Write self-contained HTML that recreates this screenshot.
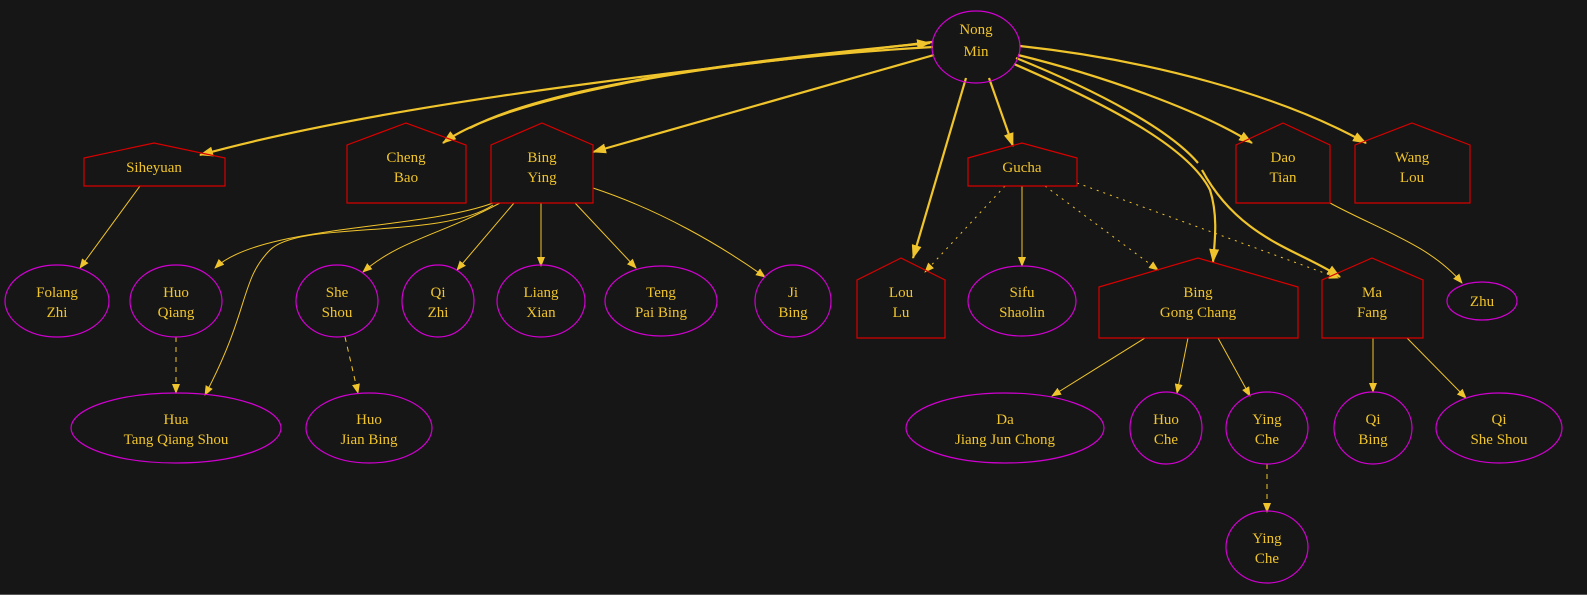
<!DOCTYPE html>
<html><head><meta charset="utf-8"><style>
html,body{margin:0;padding:0;background:#161616;}
svg{display:block;}
text{font-family:"Liberation Serif",serif;font-size:15px;fill:#f0c42c;text-anchor:middle;}
.e{fill:none;stroke:#f0c42c;stroke-width:1;}
.t{fill:none;stroke:#f0c42c;stroke-width:2.2;}
.el{fill:none;stroke:#d000d0;stroke-width:1.2;}
.h{fill:none;stroke:#d80000;stroke-width:1.2;}
</style></head><body>
<svg width="1587" height="595" viewBox="0 0 1587 595" xmlns="http://www.w3.org/2000/svg">
<defs>
<marker id="a" markerWidth="10" markerHeight="8" refX="9" refY="4" orient="auto" markerUnits="userSpaceOnUse"><path d="M0,0 L10,4 L0,8 z" fill="#f0c42c"/></marker>
<marker id="b" markerWidth="14" markerHeight="10" refX="13" refY="5" orient="auto" markerUnits="userSpaceOnUse"><path d="M0,0 L14,5 L0,10 z" fill="#f0c42c"/></marker>
</defs>
<rect x="0" y="0" width="1587" height="595" fill="#161616"/>
<line x1="0" y1="594.5" x2="1587" y2="594.5" stroke="#555" stroke-width="1"/>

<!-- thick edges from Nong Min -->
<path class="t" marker-end="url(#b)" d="M932,42 C700,70 400,100 200,155"/>
<path class="t" marker-end="url(#b)" d="M933,47 C700,60 500,100 443,143"/>
<path class="t" marker-end="url(#b)" d="M470,128 C560,80 800,55 930,43"/>
<path class="t" marker-end="url(#b)" d="M934,55 L593,152"/>
<path class="t" marker-end="url(#b)" d="M966,78 L913,258"/>
<path class="t" marker-end="url(#b)" d="M989,78 L1013,146"/>
<path class="t" marker-end="url(#b)" d="M1014,64 C1120,110 1190,150 1210,190 C1218,215 1215,240 1213,262"/>
<path class="t" marker-end="url(#b)" d="M1016,58 C1100,92 1170,130 1198,163 M1202,170 C1240,240 1300,250 1340,277"/>
<path class="t" marker-end="url(#b)" d="M1018,55 C1100,75 1200,110 1252,143"/>
<path class="t" marker-end="url(#b)" d="M1020,46 C1150,60 1280,95 1366,143"/>

<!-- thin edges -->
<path class="e" marker-end="url(#a)" d="M140,186 L80,268"/>
<path class="e" marker-end="url(#a)" d="M493,203 C420,230 260,225 215,268"/>
<path class="e" marker-end="url(#a)" d="M493,205 C440,240 300,220 270,250 C240,280 250,310 205,395"/>
<path class="e" marker-end="url(#a)" d="M500,203 C440,235 400,240 363,272"/>
<path class="e" marker-end="url(#a)" d="M514,203 L457,270"/>
<path class="e" marker-end="url(#a)" d="M541,203 L541,266"/>
<path class="e" marker-end="url(#a)" d="M575,203 L636,268"/>
<path class="e" marker-end="url(#a)" d="M593,188 C660,210 720,245 765,277"/>
<path class="e" marker-end="url(#a)" stroke-dasharray="5,5" d="M176,337 L176,393"/>
<path class="e" marker-end="url(#a)" stroke-dasharray="5,5" d="M345,337 L358,393"/>
<path class="e" marker-end="url(#a)" stroke-dasharray="2,5" d="M1005,186 L925,272"/>
<path class="e" marker-end="url(#a)" d="M1022,186 L1022,266"/>
<path class="e" marker-end="url(#a)" stroke-dasharray="2,5" d="M1045,186 L1158,270"/>
<path class="e" marker-end="url(#a)" stroke-dasharray="2,5" d="M1077,183 L1338,278"/>
<path class="e" marker-end="url(#a)" d="M1330,203 C1380,230 1430,245 1462,283"/>
<path class="e" marker-end="url(#a)" d="M1145,338 L1052,396"/>
<path class="e" marker-end="url(#a)" d="M1188,338 L1177,393"/>
<path class="e" marker-end="url(#a)" d="M1218,338 L1250,396"/>
<path class="e" marker-end="url(#a)" stroke-dasharray="5,5" d="M1267,464 L1267,512"/>
<path class="e" marker-end="url(#a)" d="M1373,338 L1373,392"/>
<path class="e" marker-end="url(#a)" d="M1407,338 L1466,398"/>

<!-- houses -->
<polygon class="h" points="84,186 84,158 154,143 225,158 225,186"/>
<text x="154" y="172">Siheyuan</text>
<polygon class="h" points="347,203 347,145 406,123 466,145 466,203"/>
<text x="406" y="162">Cheng</text><text x="406" y="182">Bao</text>
<polygon class="h" points="491,203 491,145 542,123 593,145 593,203"/>
<text x="542" y="162">Bing</text><text x="542" y="182">Ying</text>
<polygon class="h" points="968,186 968,158 1022,143 1077,158 1077,186"/>
<text x="1022" y="172">Gucha</text>
<polygon class="h" points="1236,203 1236,145 1283,123 1330,145 1330,203"/>
<text x="1283" y="162">Dao</text><text x="1283" y="182">Tian</text>
<polygon class="h" points="1355,203 1355,145 1412,123 1470,145 1470,203"/>
<text x="1412" y="162">Wang</text><text x="1412" y="182">Lou</text>
<polygon class="h" points="857,338 857,280 901,258 945,280 945,338"/>
<text x="901" y="297">Lou</text><text x="901" y="317">Lu</text>
<polygon class="h" points="1099,338 1099,287 1198,258 1298,287 1298,338"/>
<text x="1198" y="297">Bing</text><text x="1198" y="317">Gong Chang</text>
<polygon class="h" points="1322,338 1322,280 1372,258 1423,280 1423,338"/>
<text x="1372" y="297">Ma</text><text x="1372" y="317">Fang</text>

<!-- ellipses -->
<ellipse class="el" cx="976" cy="47" rx="44" ry="36"/>
<text x="976" y="34">Nong</text><text x="976" y="56">Min</text>
<ellipse class="el" cx="57" cy="301" rx="52" ry="36"/>
<text x="57" y="297">Folang</text><text x="57" y="317">Zhi</text>
<ellipse class="el" cx="176" cy="301" rx="46" ry="36"/>
<text x="176" y="297">Huo</text><text x="176" y="317">Qiang</text>
<ellipse class="el" cx="337" cy="301" rx="41" ry="36"/>
<text x="337" y="297">She</text><text x="337" y="317">Shou</text>
<ellipse class="el" cx="438" cy="301" rx="36" ry="36"/>
<text x="438" y="297">Qi</text><text x="438" y="317">Zhi</text>
<ellipse class="el" cx="541" cy="301" rx="44" ry="36"/>
<text x="541" y="297">Liang</text><text x="541" y="317">Xian</text>
<ellipse class="el" cx="661" cy="301" rx="56" ry="35"/>
<text x="661" y="297">Teng</text><text x="661" y="317">Pai Bing</text>
<ellipse class="el" cx="793" cy="301" rx="38" ry="36"/>
<text x="793" y="297">Ji</text><text x="793" y="317">Bing</text>
<ellipse class="el" cx="1022" cy="301" rx="54" ry="35"/>
<text x="1022" y="297">Sifu</text><text x="1022" y="317">Shaolin</text>
<ellipse class="el" cx="1482" cy="301" rx="35" ry="19"/>
<text x="1482" y="306">Zhu</text>
<ellipse class="el" cx="176" cy="428" rx="105" ry="35"/>
<text x="176" y="424">Hua</text><text x="176" y="444">Tang Qiang Shou</text>
<ellipse class="el" cx="369" cy="428" rx="63" ry="35"/>
<text x="369" y="424">Huo</text><text x="369" y="444">Jian Bing</text>
<ellipse class="el" cx="1005" cy="428" rx="99" ry="35"/>
<text x="1005" y="424">Da</text><text x="1005" y="444">Jiang Jun Chong</text>
<ellipse class="el" cx="1166" cy="428" rx="36" ry="36"/>
<text x="1166" y="424">Huo</text><text x="1166" y="444">Che</text>
<ellipse class="el" cx="1267" cy="428" rx="41" ry="36"/>
<text x="1267" y="424">Ying</text><text x="1267" y="444">Che</text>
<ellipse class="el" cx="1373" cy="428" rx="39" ry="36"/>
<text x="1373" y="424">Qi</text><text x="1373" y="444">Bing</text>
<ellipse class="el" cx="1499" cy="428" rx="63" ry="35"/>
<text x="1499" y="424">Qi</text><text x="1499" y="444">She Shou</text>
<ellipse class="el" cx="1267" cy="547" rx="41" ry="36"/>
<text x="1267" y="543">Ying</text><text x="1267" y="563">Che</text>
</svg>
</body></html>
